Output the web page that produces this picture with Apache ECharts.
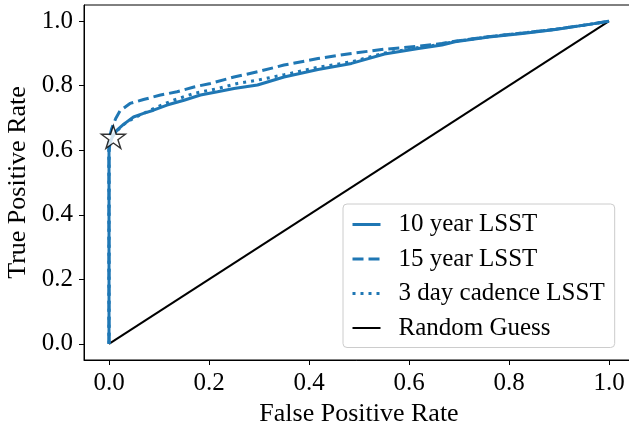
<!DOCTYPE html>
<html>
<head>
<meta charset="utf-8">
<script src="https://cdn.jsdelivr.net/npm/echarts@6/dist/echarts.min.js"></script>
<style>
html,body{margin:0;padding:0;background:#fff;}
#chart{width:629px;height:422px;}
</style>
</head>
<body>
<div id="chart"></div>
<script>
// ---- data ----
const xTicks = [0.0, 0.2, 0.4, 0.6, 0.8, 1.0];
const yTicks = [0.0, 0.2, 0.4, 0.6, 0.8, 1.0];

const fpr10 = [0, 0, 0.002, 0.005, 0.009, 0.016, 0.029, 0.049, 0.069, 0.089, 0.116, 0.150, 0.183, 0.217, 0.250, 0.297, 0.350, 0.418, 0.485, 0.551, 0.619, 0.666, 0.692, 0.760, 0.827, 0.893, 0.961, 1.0];
const tpr10 = [0, 0.60, 0.620, 0.635, 0.648, 0.662, 0.680, 0.703, 0.714, 0.724, 0.740, 0.755, 0.771, 0.781, 0.791, 0.802, 0.827, 0.850, 0.869, 0.898, 0.915, 0.926, 0.936, 0.951, 0.962, 0.974, 0.990, 1.0];

const fpr15 = [0, 0, 0.002, 0.005, 0.009, 0.014, 0.022, 0.042, 0.069, 0.103, 0.136, 0.170, 0.203, 0.250, 0.297, 0.350, 0.418, 0.485, 0.551, 0.619, 0.666, 0.692, 0.760, 0.827, 0.893, 0.961, 1.0];
const tpr15 = [0, 0.62, 0.645, 0.665, 0.682, 0.700, 0.722, 0.745, 0.757, 0.771, 0.781, 0.796, 0.807, 0.827, 0.843, 0.864, 0.884, 0.900, 0.913, 0.922, 0.931, 0.938, 0.952, 0.963, 0.975, 0.990, 1.0];

const fpr3d = [0, 0, 0.003, 0.008, 0.015, 0.036, 0.062, 0.096, 0.129, 0.170, 0.217, 0.257, 0.297, 0.350, 0.418, 0.485, 0.551, 0.619, 0.666, 0.692, 0.760, 0.827, 0.893, 0.961, 1.0];
const tpr3d = [0, 0.61, 0.630, 0.645, 0.659, 0.688, 0.709, 0.734, 0.755, 0.776, 0.791, 0.807, 0.817, 0.834, 0.857, 0.874, 0.901, 0.918, 0.929, 0.937, 0.952, 0.963, 0.975, 0.990, 1.0];

const guessX = [0, 1];
const guessY = [0, 1];

const starX = [0.0087];
const starY = [0.641];

const seriesNames = ['10 year LSST', '15 year LSST', '3 day cadence LSST', 'Random Guess'];
const xTitle = 'False Positive Rate';
const yTitle = 'True Positive Rate';

// ---- chart ----
const FONT = '"Liberation Serif", "Times New Roman", serif';
const BLUE = '#1f77b4';
const zip = (a, b) => a.map((v, i) => [v, b[i]]);
const starPath = 'path://M100 0 L122.45 69.1 L195.1 69.1 L136.3 111.8 L158.8 180.9 L100 138.2 L41.2 180.9 L63.7 111.8 L4.9 69.1 L77.55 69.1 Z';

const chart = echarts.init(document.getElementById('chart'), null, {renderer: 'canvas'});

function axisCommon(ticks, name, gap, margin, nameSize) {
  return {
    type: 'value',
    min: -0.05,
    max: 1.05,
    name: name,
    nameLocation: 'middle',
    nameGap: gap,
    nameTextStyle: {fontFamily: FONT, fontSize: nameSize, color: '#000'},
    axisLine: {show: true, onZero: false, lineStyle: {color: '#000', width: 1}},
    axisTick: {show: true, length: 5, customValues: ticks, lineStyle: {color: '#000', width: 1}},
    axisLabel: {
      customValues: ticks,
      formatter: v => Number(v).toFixed(1),
      margin: margin,
      fontFamily: FONT, fontSize: 25, color: '#000'
    },
    splitLine: {show: false}
  };
}

const legendWidths = [3, 3, 3, 2];

const option = {
  animation: false,
  backgroundColor: '#fff',
  grid: {left: 84, top: 5, width: 550, height: 355, show: true, borderColor: '#000', borderWidth: 1,
         containLabel: false, outerBoundsMode: 'none'},
  xAxis: axisCommon(xTicks, xTitle, 35, 11, 26),
  yAxis: axisCommon(yTicks, yTitle, 49, 11, 26),
  legend: {
    orient: 'vertical',
    left: 343,
    top: 204,
    padding: [8, 10, 7, 8],
    backgroundColor: 'rgba(255,255,255,0.85)',
    borderColor: '#cccccc',
    borderWidth: 1,
    borderRadius: 4,
    itemWidth: 28,
    itemHeight: 14,
    itemGap: 9.5,
    data: seriesNames.map((n, i) => ({name: n, lineStyle: {width: legendWidths[i]}})),
    itemStyle: {opacity: 0, color: 'transparent', borderWidth: 0},
    textStyle: {fontFamily: FONT, fontSize: 25, color: '#000', lineHeight: 25, padding: [0, 0, 0, 13]}
  },
  series: [
    {name: seriesNames[0], type: 'line', data: zip(fpr10, tpr10), showSymbol: false, symbol: 'none',
     lineStyle: {color: BLUE, width: 3}, itemStyle: {color: BLUE}, z: 3},
    {name: seriesNames[1], type: 'line', data: zip(fpr15, tpr15), showSymbol: false, symbol: 'none',
     lineStyle: {color: BLUE, width: 3, type: [11, 5], cap: 'butt'}, itemStyle: {color: BLUE}, z: 3},
    {name: seriesNames[2], type: 'line', data: zip(fpr3d, tpr3d), showSymbol: false, symbol: 'none',
     lineStyle: {color: BLUE, width: 3, type: [3, 5], cap: 'butt'}, itemStyle: {color: BLUE}, z: 3},
    {name: seriesNames[3], type: 'line', data: zip(guessX, guessY), showSymbol: false, symbol: 'none',
     lineStyle: {color: '#000', width: 2}, itemStyle: {color: '#000'}, z: 2},
    {name: 'star', type: 'scatter', data: zip(starX, starY), symbol: starPath, symbolSize: 24, symbolKeepAspect: true,
     itemStyle: {color: '#fff', borderColor: '#000', borderWidth: 1.4}, z: 5}
  ]
};
chart.setOption(option);
</script>
</body>
</html>
